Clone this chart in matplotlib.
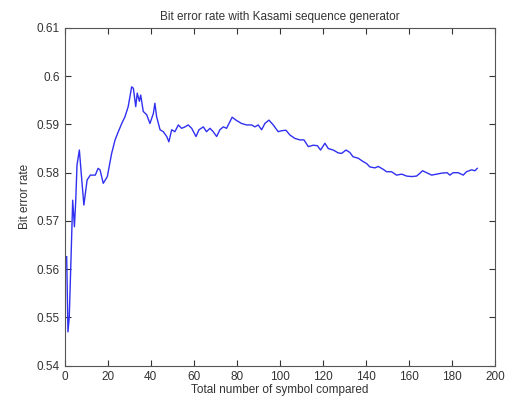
import matplotlib.pyplot as plt

plt.rcParams['font.family'] = ['Liberation Sans', 'DejaVu Sans']

symbols = [1, 1.6, 2.2, 3, 3.8, 4.6, 5.2, 5.8, 6.9, 7.8, 9, 10.5, 12, 14.3, 15.6,
           16.5, 18, 19.9, 21.9, 23.5, 25, 26.6, 28.1, 29.6, 31.2, 32, 33.1, 33.8,
           34.8, 35.4, 36.6, 38.2, 39.7, 41.3, 42, 42.8, 44.4, 45.9, 47.5, 48.5,
           49.8, 51.3, 52.9, 54.4, 56, 57.5, 59.1, 61.1, 62.5, 64.5, 66, 67.6,
           69.1, 70.7, 72.2, 73.8, 75.3, 76.9, 77.9, 80, 82.3, 84.6, 87, 88.5,
           90, 91.6, 93.1, 95, 97, 99.3, 100.9, 102.9, 104.8, 107.1, 109.4, 111.3,
           113.3, 115.6, 117.5, 119, 121, 122.6, 124.9, 127.2, 128.8, 130.8, 132.6,
           134.1, 136.5, 138.8, 140.4, 141.9, 144.3, 145.8, 148.1, 149.7, 152,
           154.3, 156.7, 159, 161.3, 163.6, 165.2, 166.4, 168.3, 170.6, 172.9,
           175.2, 177.8, 179.1, 180.6, 183, 185.3, 186.8, 189.2, 190.7, 191.8]
ber = [0.5626, 0.5470, 0.5500, 0.5619, 0.5743, 0.5688, 0.5740, 0.5816, 0.5847,
       0.5797, 0.5733, 0.5785, 0.5795, 0.5795, 0.5809, 0.5806, 0.5778, 0.5792,
       0.5840, 0.5868, 0.5885, 0.5902, 0.5916, 0.5937, 0.5978, 0.5975, 0.5937,
       0.5965, 0.5948, 0.5961, 0.5927, 0.5920, 0.5902, 0.5923, 0.5944, 0.5916,
       0.5889, 0.5885, 0.5875, 0.5864, 0.5889, 0.5885, 0.5899, 0.5892, 0.5895,
       0.5899, 0.5892, 0.5875, 0.5889, 0.5895, 0.5885, 0.5892, 0.5885, 0.5875,
       0.5889, 0.5895, 0.5892, 0.5906, 0.5915, 0.5908, 0.5902, 0.5899, 0.5899,
       0.5895, 0.5899, 0.5889, 0.5902, 0.5909, 0.5899, 0.5885, 0.5887, 0.5888,
       0.5878, 0.5871, 0.5868, 0.5868, 0.5854, 0.5857, 0.5856, 0.5847, 0.5861,
       0.5850, 0.5847, 0.5841, 0.5840, 0.5847, 0.5842, 0.5833, 0.5830, 0.5823,
       0.5819, 0.5812, 0.5810, 0.5813, 0.5807, 0.5802, 0.5802, 0.5795, 0.5797,
       0.5793, 0.5792, 0.5793, 0.5799, 0.5804, 0.5800, 0.5795, 0.5797, 0.5799,
       0.5800, 0.5795, 0.5800, 0.5800, 0.5795, 0.5802, 0.5806, 0.5804, 0.5809]

fig = plt.figure(figsize=(5.06, 4.03), dpi=100)
ax = fig.add_axes([0.1275, 0.0926, 0.8505, 0.838])
ax.plot(symbols, ber, color='#3030f0', linewidth=1)

ax.set_xlim(0, 200)
ax.set_ylim(0.54, 0.61)
ax.set_xticks(range(0, 201, 20))
ax.set_yticks([0.54, 0.55, 0.56, 0.57, 0.58, 0.59, 0.6, 0.61])
ax.set_yticklabels(['0.54', '0.55', '0.56', '0.57', '0.58', '0.59', '0.6', '0.61'])
ax.tick_params(direction='in', top=True, right=True, labelsize=8.5,
               colors='#333333', length=4)
for s in ax.spines.values():
    s.set_color('#555555')

ax.set_title('Bit error rate with Kasami sequence generator', fontsize=8.5, color='#333333')
ax.set_xlabel('Total number of symbol compared', fontsize=8.5, color='#333333', labelpad=1)
ax.set_ylabel('Bit error rate', fontsize=8.5, color='#333333')

fig.savefig('out.png')
